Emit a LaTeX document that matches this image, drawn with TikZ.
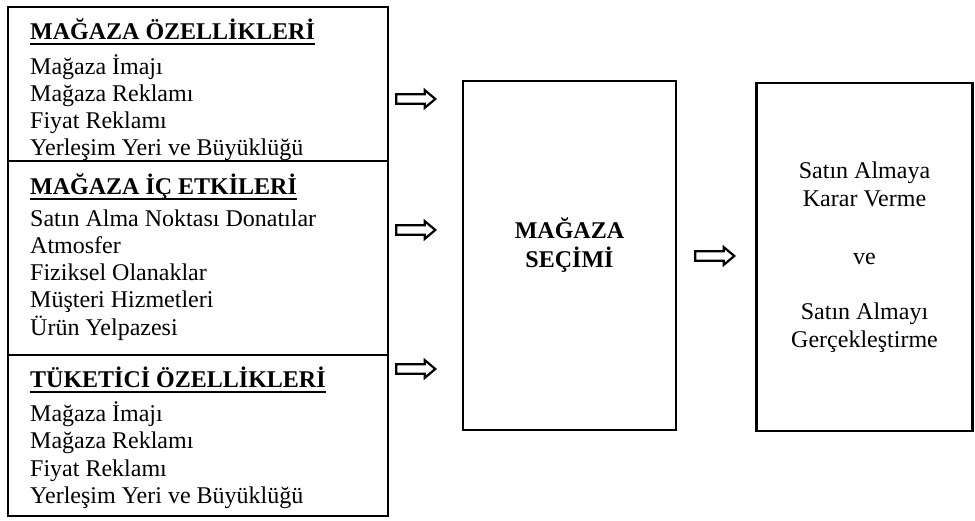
\documentclass[tikz,border=0pt]{standalone}
\usepackage{fontspec}
\setmainfont{Liberation Serif}
\usetikzlibrary{shapes.arrows}
\begin{document}
\begin{tikzpicture}[x=1pt,y=-1pt,
  box/.style={draw,line width=2.2pt,inner sep=0pt,minimum width=#1},
  txt/.style={inner sep=0pt,anchor=base west,font=\fontsize{24}{28}\selectfont},
  ttl/.style={inner sep=0pt,anchor=base west,font=\fontsize{24}{28}\selectfont\bfseries},
  ctxt/.style={inner sep=0pt,anchor=base,font=\fontsize{24}{28}\selectfont},
  cttl/.style={inner sep=0pt,anchor=base,font=\fontsize{24}{28}\selectfont\bfseries},
  harrow/.style={shape=single arrow,draw,line width=2.2pt,inner xsep=0pt,inner ysep=3.6pt,
    minimum height=39pt,single arrow head extend=4.2pt,single arrow tip angle=80}
]
\useasboundingbox (0,0) rectangle (975,521);
% left boxes
\node[box=380pt,minimum height=154pt] (b1) at (198,84) {};
\node[box=380pt,minimum height=194pt] (b2) at (198,258) {};
\node[box=380pt,minimum height=161pt] (b3) at (198,435.5) {};
% middle and right boxes
\node[box=213pt,minimum height=349pt] (mid) at (569.5,255.5) {};
\node[box=216pt,minimum height=348pt] (res) at (864.5,257) {};

% box 1 text
\node[ttl] (t1) at (30,40) {MAĞAZA ÖZELLİKLERİ};
\draw[line width=1.8pt] ([yshift=-4]t1.base west) -- ([yshift=-4]t1.base east);
\node[txt] (l11) at (30,75) {Mağaza İmajı};
\node[txt] (l12) at (30,102) {Mağaza Reklamı};
\node[txt] (l13) at (30,129) {Fiyat Reklamı};
\node[txt] (l14) at (30,156) {Yerleşim Yeri ve Büyüklüğü};

% box 2 text
\node[ttl] (t2) at (30,195) {MAĞAZA İÇ ETKİLERİ};
\draw[line width=1.8pt] ([yshift=-4]t2.base west) -- ([yshift=-4]t2.base east);
\node[txt] (l21) at (30,227) {Satın Alma Noktası Donatılar};
\node[txt] (l22) at (30,254) {Atmosfer};
\node[txt] (l23) at (30,281) {Fiziksel Olanaklar};
\node[txt] (l24) at (30,308) {Müşteri Hizmetleri};
\node[txt] (l25) at (30,336) {Ürün Yelpazesi};

% box 3 text
\node[ttl] (t3) at (30,388) {TÜKETİCİ ÖZELLİKLERİ};
\draw[line width=1.8pt] ([yshift=-4]t3.base west) -- ([yshift=-4]t3.base east);
\node[txt] (l31) at (30,421) {Mağaza İmajı};
\node[txt] (l32) at (30,448) {Mağaza Reklamı};
\node[txt] (l33) at (30,476) {Fiyat Reklamı};
\node[txt] (l34) at (30,503) {Yerleşim Yeri ve Büyüklüğü};

% middle text
\node[cttl] (m1) at (569.5,239) {MAĞAZA};
\node[cttl] (m2) at (569.5,268) {SEÇİMİ};

% right text
\node[ctxt] (r1) at (864.5,179) {Satın Almaya};
\node[ctxt] (r2) at (864.5,207) {Karar Verme};
\node[ctxt] (r3) at (864.5,265) {ve};
\node[ctxt] (r4) at (864.5,320) {Satın Almayı};
\node[ctxt] (r5) at (864.5,348) {Gerçekleştirme};

% arrows
\node[harrow] (a1) at (413,99) {};
\node[harrow] (a2) at (413,230) {};
\node[harrow] (a3) at (413,369) {};
\node[harrow] (a4) at (712,256) {};
\end{tikzpicture}
\end{document}
